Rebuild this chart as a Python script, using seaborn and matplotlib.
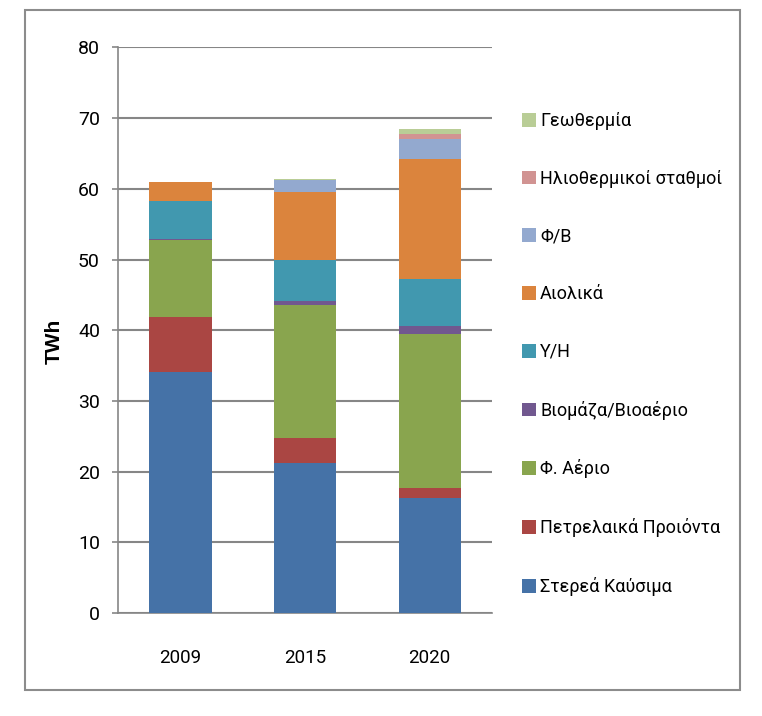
import numpy as np
import pandas as pd
import seaborn as sns
import matplotlib.pyplot as plt
from matplotlib.patches import Rectangle, Patch

years = ["2009", "2015", "2020"]

# TWh per source, bottom of the stack first
sources = ["Στερεά Καύσιμα", "Πετρελαικά Προιόντα", "Φ. Αέριο", "Βιομάζα/Βιοαέριο",
           "Υ/Η", "Αιολικά", "Φ/Β", "Ηλιοθερμικοί σταθμοί", "Γεωθερμία"]
solid = [34.1, 21.2, 16.3]
oil = [7.7, 3.6, 1.4]
gas = [11.0, 18.8, 21.8]
biomass = [0.1, 0.5, 1.1]
hydro = [5.4, 5.8, 6.7]
wind = [2.6, 9.7, 16.9]
pv = [0.05, 1.6, 2.8]
solar_thermal = [0.0, 0.1, 0.7]
geothermal = [0.0, 0.1, 0.7]

colors = ["#4572A7", "#AA4643", "#89A54E", "#71588F", "#4198AF",
          "#DB843D", "#93A9CF", "#D19392", "#B9CD96"]

values = [solid, oil, gas, biomass, hydro, wind, pv, solar_thermal, geothermal]
df = pd.DataFrame({s: v for s, v in zip(sources, values)}, index=years)

sns.set_style("white")
plt.rcParams['font.family'] = ['Roboto', 'DejaVu Sans']
plt.rcParams['text.color'] = 'black'
plt.rcParams['xtick.color'] = 'black'
plt.rcParams['ytick.color'] = 'black'
plt.rcParams['axes.labelcolor'] = 'black'

fig = plt.figure(figsize=(7.62, 7.16), dpi=100)
ax = fig.add_axes([118 / 762, 1 - 613 / 716, 374 / 762, 565.6 / 716])

grid_col = "#868686"
bottom = np.zeros(len(years))
for src, col in zip(sources, colors):
    sns.barplot(x=years, y=df[src].values, color=col, saturation=1, width=0.5,
                bottom=bottom, ax=ax, zorder=3, edgecolor="none", linewidth=0)
    bottom = bottom + df[src].values

ax.set_xlim(-0.5, 2.5)
ax.set_ylim(0, 80)
ax.set_yticks(range(0, 81, 10))
ax.yaxis.grid(True, color=grid_col, linewidth=1.5, zorder=0)
ax.set_axisbelow(True)

for side in ["top", "right"]:
    ax.spines[side].set_visible(False)
for side in ["left", "bottom"]:
    ax.spines[side].set_color(grid_col)
    ax.spines[side].set_linewidth(1.2)

# x tick marks between categories, labels centred
ax.set_xticks([0, 1, 2])
ax.set_xticklabels(years)
ax.set_xticks([-0.5, 0.5, 1.5, 2.5], minor=True)
ax.tick_params(axis="x", which="major", length=0, pad=26, labelsize=13.5)
ax.tick_params(axis="x", which="minor", length=8, width=1.2, color=grid_col, direction="out")
ax.tick_params(axis="y", length=4, width=1.2, color=grid_col, pad=9, labelsize=14, left=True)

ax.set_xlabel("")
ax.set_ylabel("TWh", fontsize=15, fontweight="bold", family=['Liberation Sans', 'DejaVu Sans'])
ax.yaxis.set_label_coords(-0.145, 0.48)

handles = [Patch(facecolor=c, edgecolor="none") for c in colors]
fig.legend(handles[::-1], sources[::-1], loc="center left",
           bbox_to_anchor=(522 / 762, 1 - 354 / 716), frameon=False,
           fontsize=13, labelspacing=2.2, handlelength=0.8, handleheight=0.8,
           handletextpad=0.2, borderpad=0, borderaxespad=0)

fig.patches.append(Rectangle((25 / 762, 1 - 690 / 716), 715 / 762, 680 / 716,
                             transform=fig.transFigure, fill=False,
                             edgecolor="#8c8c8c", linewidth=1.5))

fig.savefig("out.png", dpi=100)
